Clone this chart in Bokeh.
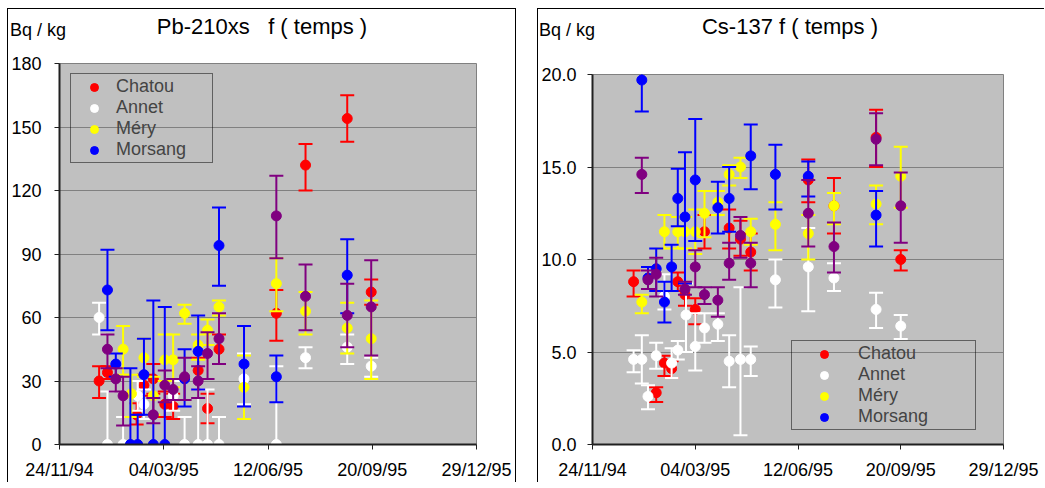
from bokeh.plotting import figure
from bokeh.layouts import row, column
from bokeh.models import ColumnDataSource, FixedTicker, Range1d, Legend, LegendItem, Div
from bokeh.embed import file_html
from bokeh.resources import INLINE

# ---------------- data ----------------
# x : jours depuis le 24/11/94
x_ticks = [0, 100, 200, 300, 400]
x_tick_labels = ["24/11/94", "04/03/95", "12/06/95", "20/09/95", "29/12/95"]
pb_y_ticks = [0, 30, 60, 90, 120, 150, 180]
pb_y_tick_labels = ["0", "30", "60", "90", "120", "150", "180"]
cs_y_ticks = [0, 5, 10, 15, 20]
cs_y_tick_labels = ["0.0", "5.0", "10.0", "15.0", "20.0"]

series_names = ["Chatou", "Annet", "Méry", "Morsang", "Dampierre"]
series_colors = ["#FF0000", "#FFFFFF", "#FFFF00", "#0000FF", "#800080"]

# Pb-210xs (Bq/kg)
pb_chatou_jour = [38, 46, 74, 81, 90, 101, 109, 133, 142, 153, 208, 236, 276, 299]
pb_chatou = [30, 34, 14, 28, 31, 19, 18, 35, 17, 45, 62, 132, 154, 72]
pb_chatou_bas = [22, 31, 9.5, 23, 24, 13, 12, 26, 10, 38, 49, 120, 143, 66]
pb_chatou_haut = [37, 37, 19.5, 33, 38, 25, 24, 41, 24, 52, 73, 142, 165, 78]

pb_annet_jour = [38, 46, 61, 75, 81, 109, 120, 133, 142, 153, 177, 208, 236, 276, 299]
pb_annet = [60, 0, 0, 23, 19, 23, 0, 0, 0, 0, 31, 0, 41, 46, 37]
pb_annet_bas = [52, -25, -13, 16, 12, 16, -13, -26, -26, -13, 19, -37, 36, 38, 32]
pb_annet_haut = [67, 25, 13, 30, 26, 30, 13, 26, 26, 13, 43, 37, 46, 52, 41]

pb_mery_jour = [61, 69, 81, 90, 101, 109, 120, 133, 142, 153, 177, 208, 236, 276, 299]
pb_mery = [45, 24, 41, 23, 40, 40, 62, 47, 54, 65, 27, 76, 63, 55, 50]
pb_mery_bas = [33, 13, 32, 14, 30, 27, 57, 40, 47, 61, 12, 63, 52, 43, 31]
pb_mery_haut = [56, 33, 50, 32, 52, 52, 66, 52, 59, 68, 42, 88, 72, 67, 68]

pb_morsang_jour = [46, 54, 68, 75, 81, 90, 101, 120, 133, 153, 177, 208, 276]
pb_morsang = [73, 38, 0, 0, 33, 0, 0, 31, 44, 94, 38, 32, 80]
pb_morsang_bas = [54, 32, -36, -14, 14, -68, -65, 18, 26, 75, 18, 20, 62]
pb_morsang_haut = [92, 43, 36, 14, 50, 68, 65, 45, 61, 112, 56, 42, 97]

pb_dampierre_jour = [46, 54, 61, 90, 101, 109, 120, 133, 142, 153, 208, 236, 276, 299]
pb_dampierre = [45, 31, 23, 14, 28, 26, 32, 30, 43, 50, 108, 70, 61, 65]
pb_dampierre_bas = [36, 25, 9, 10, 20, 21, 21, 22, 31, 38, 88, 54, 46, 42]
pb_dampierre_haut = [52, 36, 32, 22, 35, 31, 41, 37, 53, 62, 127, 85, 76, 87]

# Cs-137 (Bq/kg)
cs_chatou_jour = [40, 62, 70, 77, 83, 90, 100, 109, 133, 144, 154, 210, 235, 276, 300]
cs_chatou = [8.8, 2.8, 4.4, 4.1, 8.8, 8.1, 7.3, 11.5, 11.7, 11.1, 10.4, 14.3, 12.9, 16.6, 10.0]
cs_chatou_bas = [8.0, 2.3, 3.7, 3.6, 8.3, 7.5, 6.5, 10.6, 10.6, 10.2, 9.4, 13.1, 11.4, 15.0, 9.4]
cs_chatou_haut = [9.4, 3.1, 4.8, 4.5, 9.3, 8.7, 7.9, 12.4, 12.7, 12.1, 11.4, 15.4, 14.4, 18.1, 10.5]

cs_annet_jour = [40, 48, 54, 62, 70, 77, 83, 91, 100, 109, 122, 133, 144, 154, 178, 210, 235, 276, 300]
cs_annet = [4.6, 4.6, 2.6, 4.8, 8.0, 4.4, 5.1, 7.0, 5.3, 6.3, 6.5, 4.5, 4.6, 4.6, 8.9, 9.6, 9.0, 7.3, 6.4]
cs_annet_bas = [3.9, 3.3, 1.9, 4.1, 7.3, 3.6, 4.6, 5.0, 4.0, 5.5, 5.6, 3.1, 0.5, 3.7, 7.4, 7.2, 8.3, 6.3, 5.7]
cs_annet_haut = [5.1, 5.9, 3.2, 5.5, 9.2, 5.2, 5.6, 8.7, 7.1, 7.1, 7.1, 5.9, 8.5, 5.3, 10.0, 11.7, 9.8, 8.2, 7.0]

cs_mery_jour = [48, 70, 83, 90, 100, 109, 122, 133, 144, 154, 178, 210, 235, 276, 300]
cs_mery = [7.7, 11.5, 11.5, 11.5, 11.5, 12.5, 13.1, 14.6, 15.0, 11.5, 11.9, 11.4, 12.9, 13.0, 14.5]
cs_mery_bas = [7.1, 10.6, 10.6, 10.6, 10.3, 11.2, 12.4, 14.0, 14.4, 10.8, 10.5, 10.0, 11.9, 11.9, 12.8]
cs_mery_haut = [8.1, 12.4, 12.3, 12.3, 12.7, 13.7, 13.7, 15.1, 15.5, 12.2, 13.1, 12.4, 13.6, 14.0, 16.1]

cs_morsang_jour = [48, 54, 62, 70, 77, 83, 90, 100, 122, 133, 154, 178, 210, 276]
cs_morsang = [19.7, 9.0, 9.5, 7.7, 9.6, 13.3, 12.3, 14.3, 12.8, 13.3, 15.6, 14.6, 14.5, 12.4]
cs_morsang_bas = [18.0, 8.4, 8.3, 6.6, 8.3, 11.8, 8.7, 11.0, 11.4, 11.5, 13.8, 12.7, 13.4, 10.7]
cs_morsang_haut = [20.3, 9.6, 10.6, 8.8, 10.8, 14.9, 15.8, 17.6, 14.2, 15.0, 17.3, 16.2, 15.3, 13.7]

cs_dampierre_jour = [48, 54, 62, 90, 100, 109, 122, 133, 144, 154, 210, 235, 276, 300]
cs_dampierre = [14.6, 8.9, 9.2, 8.4, 9.6, 8.1, 7.8, 9.8, 11.3, 9.8, 12.5, 10.7, 16.5, 12.9]
cs_dampierre_bas = [13.6, 8.4, 8.0, 8.1, 8.5, 7.6, 6.9, 8.9, 10.1, 8.5, 10.7, 9.3, 15.1, 10.9]
cs_dampierre_haut = [15.5, 9.4, 10.1, 8.8, 10.5, 8.5, 8.5, 10.9, 12.3, 10.9, 14.3, 12.0, 17.9, 14.7]

pb_series = [
    (pb_chatou_jour, pb_chatou, pb_chatou_bas, pb_chatou_haut),
    (pb_annet_jour, pb_annet, pb_annet_bas, pb_annet_haut),
    (pb_mery_jour, pb_mery, pb_mery_bas, pb_mery_haut),
    (pb_morsang_jour, pb_morsang, pb_morsang_bas, pb_morsang_haut),
    (pb_dampierre_jour, pb_dampierre, pb_dampierre_bas, pb_dampierre_haut),
]
cs_series = [
    (cs_chatou_jour, cs_chatou, cs_chatou_bas, cs_chatou_haut),
    (cs_annet_jour, cs_annet, cs_annet_bas, cs_annet_haut),
    (cs_mery_jour, cs_mery, cs_mery_bas, cs_mery_haut),
    (cs_morsang_jour, cs_morsang, cs_morsang_bas, cs_morsang_haut),
    (cs_dampierre_jour, cs_dampierre, cs_dampierre_bas, cs_dampierre_haut),
]

FONT = "Liberation Sans"
HEAD_H = 44
FIG_H = 429


def header(width, title, title_cx, unit_left):
    html = (
        f'<div style="position:relative;width:{width}px;height:{HEAD_H}px;'
        f"font-family:'Liberation Sans',Arial,sans-serif;color:black;\">"
        f'<span style="position:absolute;left:{unit_left}px;top:12px;font-size:18px;'
        f'line-height:1;white-space:pre;">Bq / kg</span>'
        f'<span style="position:absolute;left:{title_cx}px;top:7px;font-size:22px;'
        f'line-height:1;white-space:pre;transform:translateX(-50%);">{title}</span>'
        f'</div>'
    )
    return Div(text=html, width=width, height=HEAD_H, margin=0)


def make_panel(width, min_left, min_right, min_top, y_max, y_ticks, y_labels, y_standoff,
               series, legend_loc, legend_gw, legend_standoff, legend_lw):
    p = figure(width=width, height=FIG_H, x_range=Range1d(0, 400), y_range=Range1d(0, y_max),
               output_backend="svg", toolbar_location=None,
               min_border_left=min_left, min_border_right=min_right,
               min_border_top=min_top, min_border_bottom=30, margin=0)
    p.background_fill_color = "#C0C0C0"
    p.border_fill_color = "white"
    p.outline_line_color = "#808080"
    p.outline_line_width = 1

    p.xgrid.visible = False
    p.ygrid.grid_line_color = "#808080"
    p.ygrid.grid_line_width = 1

    p.xaxis.ticker = FixedTicker(ticks=x_ticks, minor_ticks=[])
    p.xaxis.major_label_overrides = dict(zip(x_ticks, x_tick_labels))
    p.yaxis.ticker = FixedTicker(ticks=y_ticks, minor_ticks=[])
    p.yaxis.major_label_overrides = dict(zip(y_ticks, y_labels))
    for ax in (p.xaxis, p.yaxis):
        ax.axis_line_color = "#202020"
        ax.axis_line_width = 2
        ax.major_tick_line_color = "#202020"
        ax.major_tick_out = 5
        ax.major_tick_in = 0
        ax.minor_tick_line_color = None
        ax.major_label_text_font = FONT
        ax.major_label_text_font_size = "18px"
        ax.major_label_text_color = "black"
    p.xaxis.major_label_standoff = 10
    p.yaxis.major_label_standoff = y_standoff

    marker_renderers = []
    for (jour, val, bas, haut), color in zip(series, series_colors):
        src = ColumnDataSource(dict(x=jour, y=val, lo=bas, hi=haut))
        p.segment(x0="x", y0="lo", x1="x", y1="hi", source=src, line_color=color, line_width=2)
        p.scatter(x="x", y="hi", source=src, marker="dash", size=14, line_color=color, line_width=2)
        p.scatter(x="x", y="lo", source=src, marker="dash", size=14, line_color=color, line_width=2)
        r = p.scatter(x="x", y="y", source=src, marker="circle", size=10,
                      fill_color=color, line_color=color)
        marker_renderers.append(r)

    legend = Legend(items=[LegendItem(label=n, renderers=[r])
                           for n, r in zip(series_names[:4], marker_renderers[:4])],
                    location=legend_loc)
    legend.border_line_color = "black"
    legend.border_line_width = 1
    legend.background_fill_alpha = 0
    legend.label_text_font = FONT
    legend.label_text_font_size = "18px"
    legend.label_height = 20
    legend.glyph_height = 20
    legend.glyph_width = legend_gw
    legend.label_standoff = legend_standoff
    legend.label_width = legend_lw
    legend.padding = 2
    legend.spacing = 0
    legend.margin = 0
    p.add_layout(legend)
    return p


p1 = make_panel(507, 50, 39, 10, 180, pb_y_ticks, pb_y_tick_labels, 13, pb_series,
                (11, 281), 42, 1, 94)
p2 = make_panel(506, 53, 41, 21, 20, cs_y_ticks, cs_y_tick_labels, 11, cs_series,
                (199, 14), 60, 4, 115)

col1 = column(header(507, "Pb-210xs   f ( temps )", 254, 2), p1, spacing=0,
              styles={"border-left": "1px solid black", "border-top": "1px solid black",
                      "border-right": "1px solid black"})
col2 = column(header(506, "Cs-137 f ( temps )", 252, 1), p2, spacing=0,
              styles={"border-left": "1px solid black", "border-top": "1px solid black"})

layout = row(col1, col2, spacing=21, styles={"margin-left": "7px", "margin-top": "8px"})
open("out.html", "w").write(file_html(layout, INLINE))
